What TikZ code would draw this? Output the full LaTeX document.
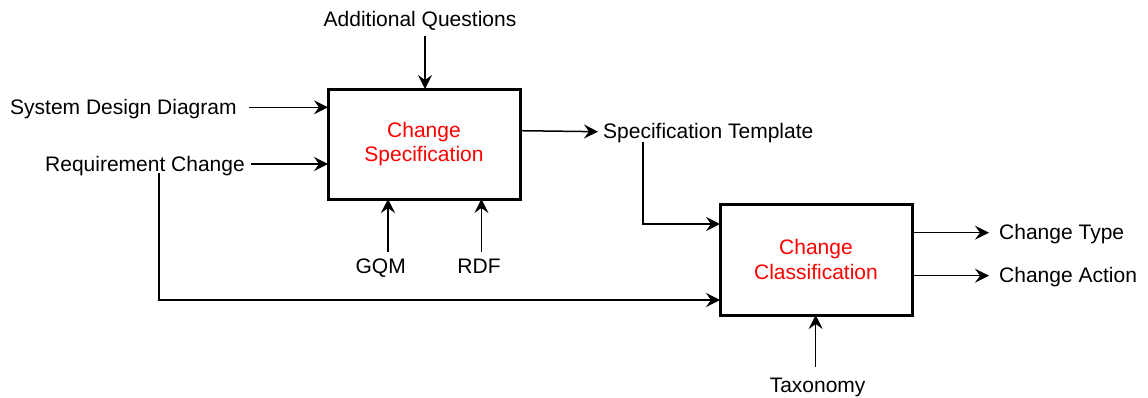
\documentclass[tikz,border=0pt]{standalone}
\usepackage{fontspec}
\setmainfont{Liberation Sans}
\usetikzlibrary{arrows.meta,calc}
\definecolor{procred}{RGB}{255,0,0}
\begin{document}
\begin{tikzpicture}[x=1pt,y=-1pt,
  every node/.style={font=\fontsize{21}{24}\selectfont},
  lbl/.style={inner sep=0pt, text height=16pt, text depth=2pt},
  procbox/.style={draw, line width=3pt, minimum width=192pt, inner sep=0pt,
    text=procred, align=center, font=\fontsize{21}{24.5}\selectfont},
  arr/.style={line width=1.5pt, -{Stealth[length=14pt,width=14pt,inset=5pt]}}]
\useasboundingbox (0,0) rectangle (1148,397);

% process boxes
\node[procbox, minimum height=110pt] (b1) at (424,144) {Change\\Specification};
\node[procbox, minimum height=111pt] (b2) at (816,259.5) {Change\\Classification};

% ports on the boxes
\coordinate (b1n)  at (425,89);
\coordinate (b1w1) at (328,107.3);
\coordinate (b1w2) at (328,164);
\coordinate (b1s1) at (388,199);
\coordinate (b1s2) at (481.4,199);
\coordinate (b1e)  at (520,130.7);
\coordinate (b2w1) at (720,224);
\coordinate (b2w2) at (720,300);
\coordinate (b2e1) at (912,232.7);
\coordinate (b2e2) at (912,275.7);
\coordinate (b2s)  at (815.7,315);

% labels
\node[lbl, anchor=base] (aq) at (420,26.7) {Additional Questions};
\node[lbl, anchor=west] (sdd) at (10,107.3) {System Design Diagram};
\node[lbl, anchor=east] (rc) at (245,164) {Requirement Change};
\node[lbl, anchor=base] (gqm) at (380.7,273) {GQM};
\node[lbl, anchor=base] (rdf) at (479,273) {RDF};
\node[lbl, anchor=west] (st) at (603,131.7) {Specification Template};
\node[lbl, anchor=west] (ct) at (999,232.7) {Change Type};
\node[lbl, anchor=west] (ca) at (999,275.7) {Change Action};
\node[lbl, anchor=base] (tax) at (817.6,392.7) {Taxonomy};

% inputs and controls of the specification step
\draw[arr] ($(aq.south -| b1n)+(0,7)$) -- (b1n);
\draw[arr] ($(sdd.east)+(12,0)$) -- (b1w1);
\draw[arr] ($(rc.east)+(6,0)$) -- (b1w2);
\draw[arr] ($(gqm.north -| b1s1)+(0,-5)$) -- (b1s1);
\draw[arr] ($(rdf.north -| b1s2)+(0,-5)$) -- (b1s2);
\draw[arr] (b1e) -- ($(st.west)+(-5,0)$);

% inputs and outputs of the classification step
\draw[arr] ($(st.south west)+(40,1)$) |- (b2w1);
\draw[arr] ($(rc.south west)+(114,0)$) |- (b2w2);
\draw[arr] (b2e1) -- ($(ct.west)+(-10,0)$);
\draw[arr] (b2e2) -- ($(ca.west)+(-10,0)$);
\draw[arr] ($(tax.north -| b2s)+(0,-10)$) -- (b2s);
\end{tikzpicture}
\end{document}
